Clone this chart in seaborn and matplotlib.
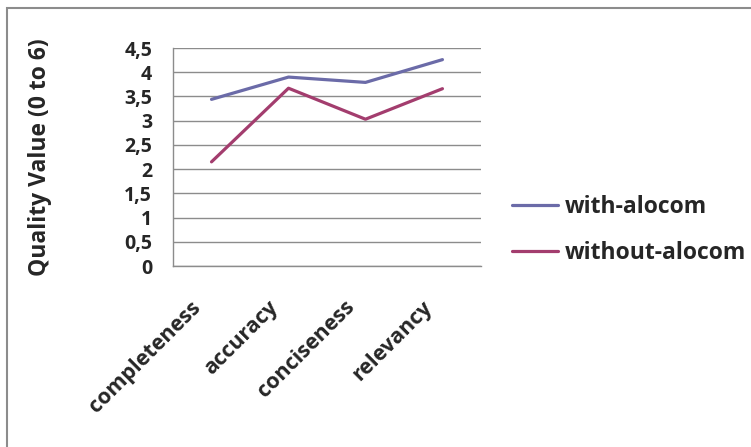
import pandas as pd
import matplotlib.pyplot as plt
import matplotlib.transforms as mtransforms
import seaborn as sns
from matplotlib.patches import Rectangle

categories = ['completeness', 'accuracy', 'conciseness', 'relevancy']
with_alocom = [3.44, 3.90, 3.79, 4.26]
without_alocom = [2.15, 3.67, 3.03, 3.66]
series_names = ['with-alocom', 'without-alocom']
yticks = [0, 0.5, 1, 1.5, 2, 2.5, 3, 3.5, 4, 4.5]
ytick_labels = ['0', '0,5', '1', '1,5', '2', '2,5', '3', '3,5', '4', '4,5']

df = pd.DataFrame({
    'metric': categories * 2,
    'value': with_alocom + without_alocom,
    'series': [series_names[0]] * 4 + [series_names[1]] * 4,
})

sns.set_style('white')
plt.rcParams['font.family'] = ['Open Sans', 'DejaVu Sans']
plt.rcParams['font.weight'] = 'bold'

fig = plt.figure(figsize=(7.51, 4.47), dpi=100)
ax = fig.add_axes([0.2304, 0.4049, 0.41, 0.4877])

sns.lineplot(data=df, x='metric', y='value', hue='series', sort=False,
             palette={'with-alocom': '#6B6BA8', 'without-alocom': '#A33D6E'},
             linewidth=2.3, ax=ax)

ax.set_xlim(-0.5, 3.5)
ax.set_ylim(0, 4.5)
ax.set_yticks(yticks)
ax.set_yticklabels(ytick_labels, fontsize=14, fontweight='bold')
ax.set_xticks(range(len(categories)))
ax.set_xticklabels(categories, rotation=45, ha='right', va='top',
                   rotation_mode='anchor', fontsize=15.5, fontweight='bold')
ax.tick_params(axis='x', length=0, pad=22)
ax.tick_params(axis='y', length=0, pad=15)
shift = mtransforms.ScaledTranslation(-21 / 100, 0, fig.dpi_scale_trans)
for lab in ax.get_xticklabels():
    lab.set_transform(lab.get_transform() + shift)

ax.yaxis.grid(True, color='#8c8c8c', linewidth=1)
ax.set_axisbelow(True)
for s in ['top', 'right']:
    ax.spines[s].set_visible(False)
for s in ['left', 'bottom']:
    ax.spines[s].set_color('#8c8c8c')
    ax.spines[s].set_linewidth(1)

ax.set_xlabel('')
ax.set_ylabel('Quality Value (0 to 6)', fontsize=16.5, fontweight='bold')
ax.yaxis.set_label_coords(-0.393, 0.5)

ax.legend(loc='center left', bbox_to_anchor=(1.1, 0.165), frameon=False,
          borderaxespad=0, borderpad=0, handlelength=2.0, handletextpad=0.3,
          labelspacing=0.92, prop={'size': 16.5, 'weight': 'bold'})

# chart area border (cut off at right and bottom like the reference)
fig.patches.append(Rectangle((7 / 751, -0.1), 1.1, 1 - 8 / 447 + 0.1,
                             transform=fig.transFigure, fill=False,
                             edgecolor='#8c8c8c', linewidth=1.5))

fig.savefig('out.png', dpi=100)
